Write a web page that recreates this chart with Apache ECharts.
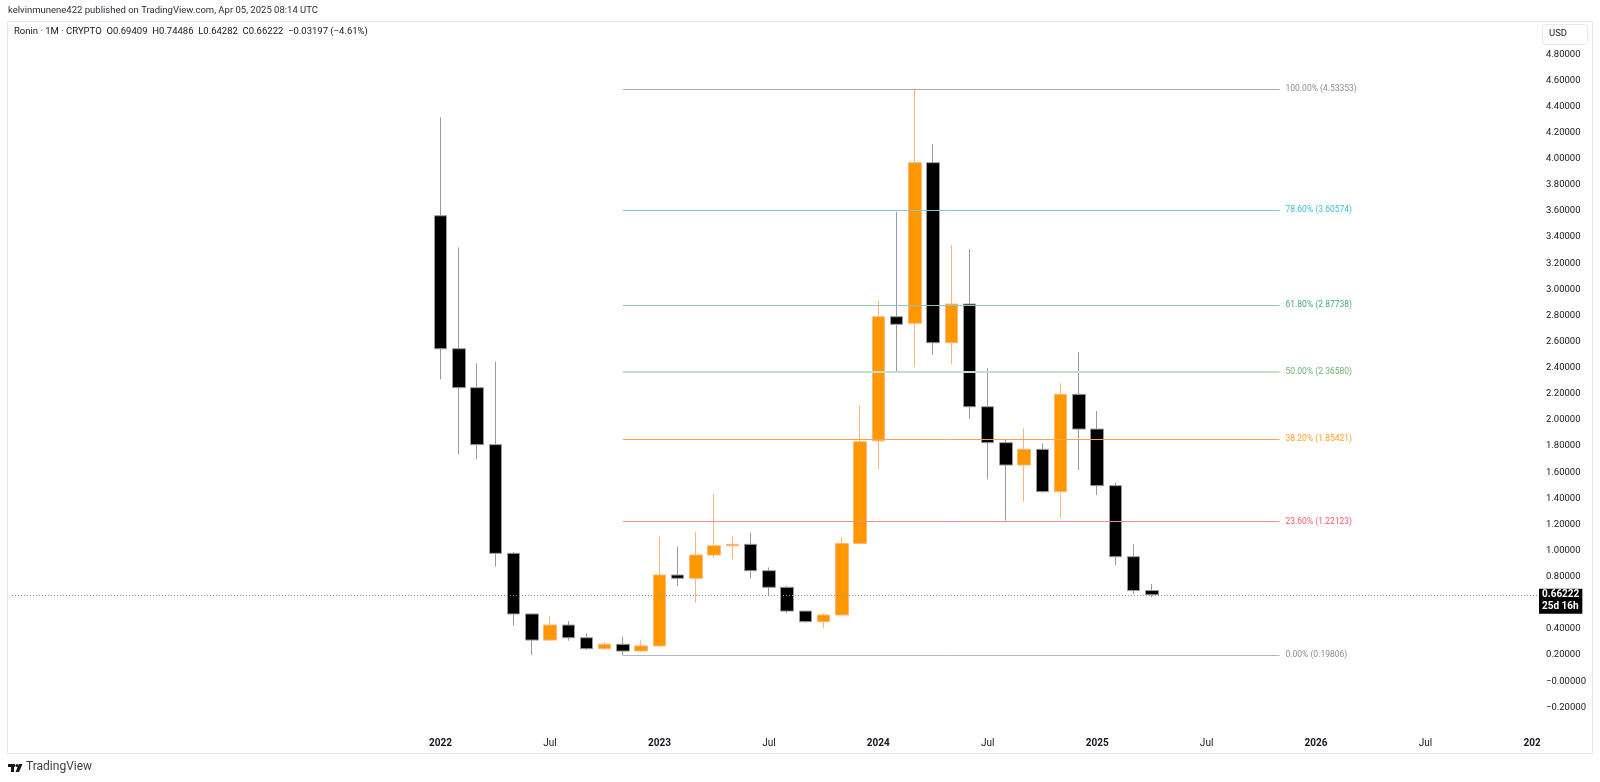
<!DOCTYPE html>
<html><head><meta charset="utf-8">
<script src="https://cdn.jsdelivr.net/npm/echarts@6/dist/echarts.min.js"></script>
<style>html,body{margin:0;padding:0;background:#fff}#c{width:1600px;height:782px}</style>
</head><body><div id="c"></div>
<script>
// ---- data ----
const months = ['2022-01','2022-02','2022-03','2022-04','2022-05','2022-06','2022-07','2022-08','2022-09','2022-10','2022-11','2022-12',
  '2023-01','2023-02','2023-03','2023-04','2023-05','2023-06','2023-07','2023-08','2023-09','2023-10','2023-11','2023-12',
  '2024-01','2024-02','2024-03','2024-04','2024-05','2024-06','2024-07','2024-08','2024-09','2024-10','2024-11','2024-12',
  '2025-01','2025-02','2025-03','2025-04'];
const opens  = [3.563,2.545,2.247,1.811,0.979,0.515,0.315,0.430,0.333,0.249,0.283,0.231,
  0.270,0.813,0.788,0.966,1.037,1.048,0.846,0.719,0.537,0.456,0.507,1.055,
  1.840,2.790,2.740,3.969,2.591,2.887,2.101,1.826,1.655,1.775,1.451,2.196,
  1.930,1.497,0.953,0.69409];
const closes = [2.545,2.247,1.811,0.979,0.515,0.315,0.430,0.333,0.249,0.283,0.231,0.270,
  0.813,0.788,0.966,1.037,1.048,0.846,0.719,0.537,0.456,0.507,1.055,1.833,
  2.790,2.732,3.969,2.591,2.887,2.101,1.826,1.655,1.775,1.451,2.196,1.930,
  1.497,0.953,0.694,0.66222];
const lows   = [2.311,1.737,1.699,0.877,0.425,0.200,0.310,0.310,0.239,0.239,0.198,0.225,
  0.264,0.729,0.601,0.941,0.933,0.788,0.652,0.520,0.448,0.405,0.500,1.050,
  1.624,2.369,2.407,2.497,2.426,2.007,1.545,1.229,1.374,1.443,1.252,1.617,
  1.425,0.889,0.668,0.64282];
const highs  = [4.316,3.321,2.433,2.446,0.990,0.520,0.499,0.461,0.367,0.298,0.341,0.318,
  1.106,1.030,1.144,1.433,1.112,1.137,0.872,0.730,0.540,0.520,1.101,2.112,
  2.913,3.594,4.53353,4.110,3.339,3.308,2.395,1.851,1.936,1.821,2.280,2.518,
  2.068,1.520,1.048,0.74486];
const fibLabels = ['100.00%','78.60%','61.80%','50.00%','38.20%','23.60%','0.00%'];
const fibValues = [4.53353,3.60574,2.87738,2.36580,1.85421,1.22123,0.19806];
const fibFrom = '2022-11', fibTo = '2025-11';
const lastPrice = 0.66222, lastPriceTimer = '25d 16h';
const axisFirstMonth = '2020-02', axisLastMonth = '2027-01';
const headerText = 'kelvinmunene422 published on TradingView.com, Apr 05, 2025 08:14 UTC';
const legendText = 'Ronin · 1M · CRYPTO  O0.69409  H0.74486  L0.64282  C0.66222  −0.03197 (−4.61%)';

// ---- styles ----
const FONT = 'Roboto, "Liberation Sans", sans-serif';
const fibLineColors = ['#a9abb3','#7cc7da','#93c3b6','#c6dfc7','#f7a350','#f38d8f','#b4b6bf'];
const fibLineWidths = [1,1,1,2,1,1,1];
const fibTextColors = ['#8a8d98','#3dbdd5','#45a694','#6bb46f','#ffa126','#f25a6a','#8a8d98'];

function monthRange(a, b) {
  let [y, m] = a.split('-').map(Number);
  const [y2, m2] = b.split('-').map(Number);
  const out = [];
  while (y < y2 || (y === y2 && m <= m2)) {
    out.push(y + '-' + String(m).padStart(2, '0'));
    m++; if (m > 12) { m = 1; y++; }
  }
  return out;
}
const axisMonths = monthRange(axisFirstMonth, axisLastMonth);
const candleData = axisMonths.map(mo => {
  const i = months.indexOf(mo);
  if (i < 0) return '-';
  return [opens[i], closes[i], lows[i], highs[i]];
});

const chart = echarts.init(document.getElementById('c'), null, {renderer: 'canvas'});
const GRID = {left: 12, top: 28, width: 1532, height: 705.5};

const fibMark = fibValues.map((v, k) => [
  {coord: [fibFrom, v], lineStyle: {color: fibLineColors[k], width: fibLineWidths[k], type: 'solid'},
   label: {show: true, position: 'end', distance: 6, color: fibTextColors[k], fontSize: 8.5, fontFamily: FONT,
           formatter: fibLabels[k] + ' (' + v.toFixed(5) + ')'}},
  {coord: [fibTo, v]}
]);

const baseGraphic = [
  {id: 'hdr', type: 'text', left: 8, top: 6, style: {text: headerText, fill: '#2a2e39', fontSize: 9.5, fontFamily: FONT}},
  {id: 'box', type: 'rect', shape: {x: 7.5, y: 21.5, width: 1585, height: 732}, style: {fill: 'none', stroke: '#e6e8ee', lineWidth: 1}, z: 0},
  {id: 'leg', type: 'text', left: 14, top: 27, style: {text: legendText, fill: '#131722', fontSize: 9.5, fontFamily: FONT}},
  {id: 'usdBox', type: 'rect', shape: {x: 1542.5, y: 24.5, width: 45, height: 20, r: 3}, style: {fill: '#fff', stroke: '#e6e8ee', lineWidth: 1}},
  {id: 'usd', type: 'text', left: 1549, top: 29, style: {text: 'USD', fill: '#131722', fontSize: 9.5, fontFamily: FONT}},
  {id: 'cover', type: 'rect', shape: {x: 1540, y: 734, width: 51, height: 19}, style: {fill: '#fff'}, z: 100},
  {id: 'lg1', type: 'rect', shape: {x: 8, y: 764, width: 7, height: 3}, style: {fill: '#131722'}},
  {id: 'lg2', type: 'rect', shape: {x: 11, y: 764, width: 3, height: 8}, style: {fill: '#131722'}},
  {id: 'lg3', type: 'circle', shape: {cx: 17, cy: 765.5, r: 1.6}, style: {fill: '#131722'}},
  {id: 'lg4', type: 'polygon', shape: {points: [[19, 764], [22.5, 764], [19, 772], [15.5, 772]]}, style: {fill: '#131722'}},
  {id: 'lg5', type: 'text', left: 26, top: 761, style: {text: 'TradingView', fill: '#3a3e49', fontSize: 12, fontFamily: FONT}}
];

chart.setOption({
  animation: false,
  backgroundColor: '#ffffff',
  grid: GRID,
  xAxis: {
    type: 'category', data: axisMonths, boundaryGap: true,
    axisLine: {show: false}, axisTick: {show: false}, splitLine: {show: false},
    axisLabel: {
      interval: 0, margin: 5, color: '#131722', fontSize: 10, fontFamily: FONT,
      formatter: v => {
        if (v < months[0]) return '';
        const [y, m] = v.split('-');
        return m === '01' ? '{y|' + y + '}' : (m === '07' ? 'Jul' : '');
      },
      rich: {y: {fontWeight: 'bold', fontSize: 10, color: '#131722', fontFamily: FONT}}
    }
  },
  yAxis: {
    type: 'value', position: 'right', min: -0.4, max: 5.0, interval: 0.2, scale: true,
    axisLine: {show: false}, axisTick: {show: false}, splitLine: {show: false},
    axisLabel: {
      align: 'left', margin: 2, color: '#131722', fontSize: 9.5, fontFamily: FONT,
      formatter: v => {
        if (v < -0.3 || v > 4.9) return '';
        return v <= 1e-9 ? '\u2212' + Math.abs(v).toFixed(5) : v.toFixed(5);
      }
    }
  },
  series: [{
    type: 'candlestick',
    data: candleData,
    barWidth: 13,
    itemStyle: {color: '#ff9800', color0: '#000000', borderColor: '#ffb57a', borderColor0: '#9a9a9a', borderWidth: 1},
    markLine: {
      silent: true, symbol: ['none', 'none'], animation: false,
      data: fibMark.concat([{yAxis: lastPrice, lineStyle: {color: '#8a8d96', type: [1, 2], width: 1}, label: {show: false}}])
    }
  }],
  graphic: baseGraphic
});

// last price tag, positioned through the value scale
const py = chart.convertToPixel({gridIndex: 0}, [axisMonths[axisMonths.length - 1], lastPrice])[1];
chart.setOption({
  graphic: [{
    id: 'priceTag', type: 'text', x: 1539, y: py - 6, z: 50,
    style: {text: lastPrice.toFixed(5) + '\n' + lastPriceTimer, fill: '#fff', backgroundColor: '#000',
            fontSize: 10, fontWeight: 'bold', fontFamily: FONT, lineHeight: 12, padding: [0, 3, 1, 3],
            verticalAlign: 'top', align: 'left'}
  }]
});
</script>
</body></html>
